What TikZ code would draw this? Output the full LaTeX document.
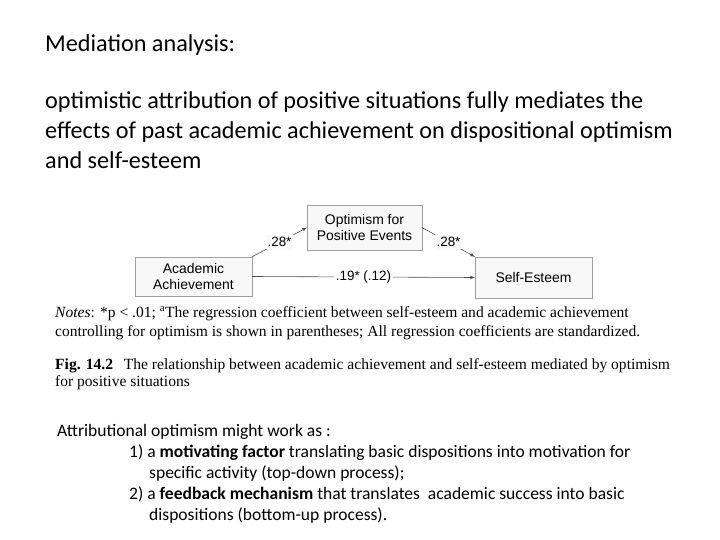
\documentclass[tikz,border=0pt]{standalone}
\usepackage{fontspec}
\setmainfont{Carlito}
\newfontfamily\figsans{Liberation Sans}
\newfontfamily\figserif{Liberation Serif}

\begin{document}
\begin{tikzpicture}[x=1bp,y=-1bp,>=latex,
    box/.style={draw=gray!75,fill=green!3!gray!6,inner sep=0pt,align=center,
        font=\figsans\fontsize{14}{16.5}\selectfont},
    coef/.style={fill=green!2!gray!4,inner sep=2pt,font=\figsans\fontsize{13.5}{15}\selectfont},
    path/.style={->,draw=gray!60!black,line width=0.6pt},
    slide/.style={anchor=base west,inner sep=0pt,font=\fontsize{24.3}{29}\selectfont},
    note/.style={anchor=base west,inner sep=0pt,font=\figserif\fontsize{15.6}{18}\selectfont},
    point/.style={anchor=base west,inner sep=0pt,font=\fontsize{17.6}{21}\selectfont}]
    \useasboundingbox (0,0) rectangle (720,540);

    % draw the slide heading and statement
    \node[slide] (title) at (45,52) {Mediation analysis:};
    \node[slide] (claim1) at (45,109) {optimistic attribution of positive situations fully mediates the};
    \node[slide] (claim2) at (45,139) {effects of past academic achievement on dispositional optimism};
    \node[slide] (claim3) at (45,169) {and self-esteem};

    % draw the three variables
    \node[box,minimum width=117,minimum height=39] (ach) at (193.5,276.5) {Academic\\Achievement};
    \node[box,minimum width=115,minimum height=45] (opt) at (364.5,227.5) {Optimism for\\Positive Events};
    \node[box,minimum width=117,minimum height=41] (se) at (533.5,277.5) {Self-Esteem};

    % draw the paths with their coefficients
    \draw[path] (ach.north east) -- node[coef] {.28*} (opt.west);
    \draw[path] (opt.east) -- node[coef] {.28*} (se.north west);
    \draw[path] (ach.east) -- node[coef,fill=white] {.19* (.12)} (se.west);

    % draw the notes and the caption
    \node[note] (notes1) at (55,317) {\textit{Notes}: *p < .01; \textsuperscript{a}The regression coefficient between self-esteem and academic achievement};
    \node[note] (notes2) at (55,336) {controlling for optimism is shown in parentheses; All regression coefficients are standardized.};
    \node[note] (caption1) at (55,369) {\textbf{Fig. 14.2}\hspace{0.7em}The relationship between academic achievement and self-esteem mediated by optimism};
    \node[note] (caption2) at (55,386) {for positive situations};

    % draw the two readings
    \node[point] (intro) at (57,436) {Attributional optimism might work as :};
    \node[point] (item1) at (129,457) {1) a \textbf{motivating factor} translating basic dispositions into motivation for};
    \node[point] (item1b) at (149,478) {specific activity (top-down process);};
    \node[point] (item2) at (129,499) {2) a \textbf{feedback mechanism} that translates\ \ academic success into basic};
    \node[point] (item2b) at (149,520) {dispositions (bottom-up process).};
\end{tikzpicture}
\end{document}
